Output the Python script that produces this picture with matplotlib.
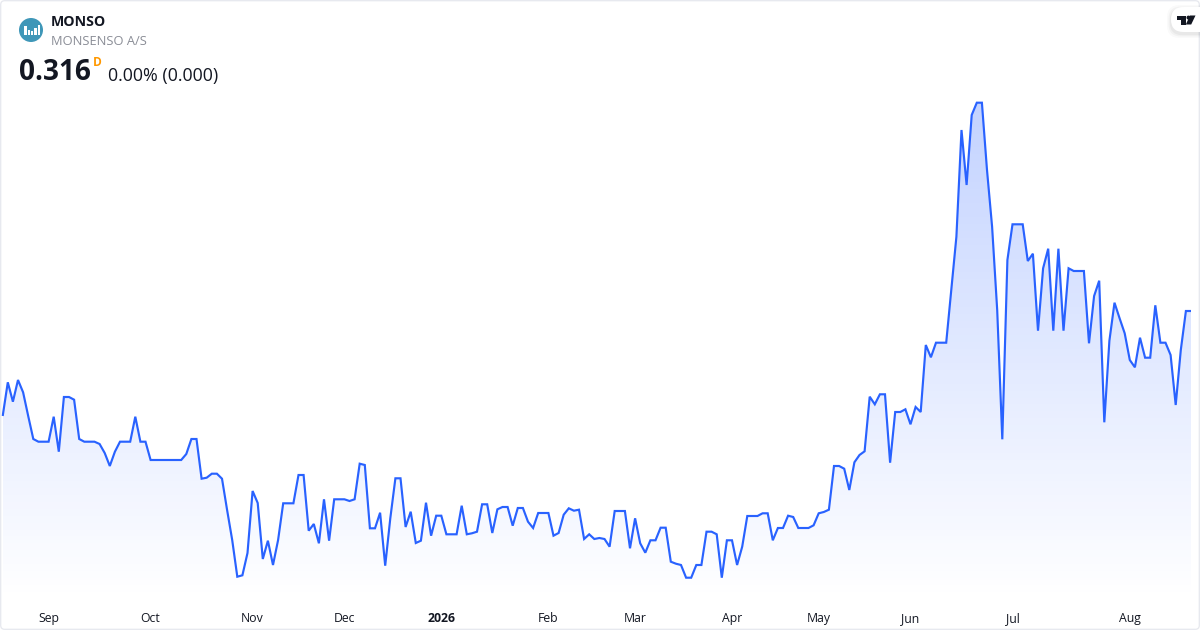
import numpy as np
import matplotlib
matplotlib.use("Agg")
import matplotlib.pyplot as plt
from matplotlib.patches import Circle, Rectangle, Polygon, FancyBboxPatch
from matplotlib.colors import LinearSegmentedColormap

plt.rcParams['font.family'] = ['Open Sans', 'DejaVu Sans']

prices = [
 .211,.2447,.2253,.247,.2347,.211,.188,.1853,.1853,.1853,.2103,.1753,.230,.230,.2273,.188,.1853,.1853,.1853,.183,
 .174,.161,.1753,.1853,.1853,.1853,.2103,.1853,.1853,.167,.167,.167,.167,.167,.167,.167,.173,.188,.188,.1483,
 .1493,.1533,.1533,.1483,.117,.087,.0503,.0517,.074,.136,.124,.068,.0863,.062,.087,.1237,.1237,.1237,.152,.152,
 .0963,.103,.0837,.1277,.0863,.1277,.1277,.1277,.126,.1277,.1633,.162,.0987,.0987,.1143,.0613,.1087,.1487,.1487,.100,
 .1153,.084,.0863,.1243,.0913,.1113,.1113,.0927,.0927,.0927,.1213,.0927,.0937,.0953,.1227,.1227,.094,.1177,.120,.120,
 .1013,.119,.119,.1053,.099,.114,.114,.114,.0913,.094,.1123,.1187,.1163,.1173,.088,.0927,.088,.089,.088,.0803,
 .116,.116,.116,.0787,.1087,.0837,.0743,.0867,.0867,.0993,.0993,.0653,.0633,.062,.0493,.0493,.062,.062,.0953,.0953,
 .0927,.0493,.0867,.0867,.062,.0803,.111,.111,.111,.1137,.1137,.0867,.099,.099,.1113,.110,.099,.099,.099,.1017,
 .1137,.115,.1173,.161,.161,.1583,.137,.1647,.172,.1757,.2303,.2227,.2327,.2327,.1643,.215,.215,.2177,.2027,.220,
 .215,.282,.2697,.2843,.2843,.2843,.337,.3903,.497,.442,.512,.5243,.5243,.457,.4003,.317,.1877,.367,.4027,.4027,
 .4027,.366,.3733,.2963,.3587,.3783,.2963,.3783,.2963,.3587,.356,.356,.356,.2837,.331,.3463,.2047,.2863,.3243,.3087,
 .2937,.267,.2597,.2893,.2693,.2693,.3217,.2843,.2843,.272,.222,.277,.316,.316,
]
tick_idx = [9, 29, 49, 67, 86, 107, 124, 143, 160, 178, 198, 221]
tick_labels = ['Sep', 'Oct', 'Nov', 'Dec', '2026', 'Feb', 'Mar', 'Apr', 'May', 'Jun', 'Jul', 'Aug']
symbol = 'MONSO'
company = 'MONSENSO A/S'
last_price = '0.316'
change = '0.00% (0.000)'
interval = 'D'

W, H = 1200, 630
BLUE = '#2962ff'
fig = plt.figure(figsize=(W / 100, H / 100), dpi=100, facecolor='white')
ax = fig.add_axes([0, 0, 1, 1], zorder=1)
ax.set_facecolor('none')
x = np.arange(len(prices))
y = np.array(prices)
for s in ax.spines.values():
    s.set_visible(False)
ax.set_yticks([])
ax.set_xticks(tick_idx)
ax.set_xticklabels(tick_labels, fontsize=8.8, color='#131722')
ax.tick_params(axis='x', length=0, pad=-12.9)
for lab in ax.get_xticklabels():
    if lab.get_text() == '2026':
        lab.set_fontweight('bold')

# gradient area below the line
poly = ax.fill_between(x, y, 0.027, color='none', lw=0)
cmap = LinearSegmentedColormap.from_list('g', [(0.161, 0.384, 1.0, 0.0), (0.161, 0.384, 1.0, 0.28)])
grad = np.linspace(1, 0, 256).reshape(-1, 1)
im = ax.imshow(grad, cmap=cmap, vmin=0, vmax=1, aspect='auto',
               extent=[x[0], x[-1], 0.027, max(prices)], zorder=2, interpolation='bilinear')
im.set_clip_path(poly.get_paths()[0], transform=ax.transData)
ax.set_xlim(-2.7 / 5.1, (W - 2.7) / 5.1)
ax.set_ylim(-0.003, 0.627)
ax.plot(x, y, color=BLUE, lw=1.55, zorder=3, solid_joinstyle='miter', solid_capstyle='butt')

# overlay in pixel coordinates
ov = fig.add_axes([0, 0, 1, 1], zorder=2)
ov.set_xlim(0, W)
ov.set_ylim(H, 0)
ov.axis('off')
ov.patch.set_alpha(0)
ov.add_patch(FancyBboxPatch((0.7, 0.7), W - 1.4, H - 1.4, boxstyle='round,pad=0,rounding_size=4',
                            fill=False, ec='#e6e8ee', lw=0.9))

# logo
ov.add_patch(Circle((31, 30), 12, fc='#3f97b8', ec='none'))
for bx, bw, btop in [(25.3, 2.7, 26.0), (29.2, 1.8, 30.3), (31.8, 1.8, 31.3), (35.3, 2.7, 28.0), (39.0, 2.8, 25.3)]:
    ov.add_patch(Rectangle((bx - bw / 2, btop), bw, 34.7 - btop, fc='white', ec='none'))

ov.text(51, 21.5, symbol, fontsize=10.2, fontweight='bold', color='#131722', va='center', ha='left')
ov.text(51, 41.5, company, fontsize=9.25, color='#8a8d96', va='center', ha='left')
ov.text(19, 73, last_price, fontsize=20.2, fontweight='bold', color='#131722', va='center', ha='left')
ov.text(93, 62, interval, fontsize=8.6, fontweight='bold', color='#ff9800', va='center', ha='left')
ov.text(108, 75.5, change, fontsize=12.85, color='#131722', va='center', ha='left')

# watermark pill
for grow, a in [(4, 0.02), (2.5, 0.03), (1.2, 0.04)]:
    ov.add_patch(FancyBboxPatch((1171 - grow, 7 - grow + 2), 45 + 2 * grow, 25 + 2 * grow,
                                boxstyle='round,pad=0,rounding_size=12.5', fc='black', ec='none', alpha=a))
ov.add_patch(FancyBboxPatch((1171, 7), 45, 25, boxstyle='round,pad=0,rounding_size=12.5', fc='white', ec='none'))
ov.add_patch(Polygon([(1177, 15.5), (1186, 15.5), (1186, 24.5), (1181.3, 24.5), (1181.3, 19.6), (1177, 19.6)], fc='#131722', ec='none'))
ov.add_patch(Circle((1188.5, 17.6), 2.0, fc='#131722', ec='none'))
ov.add_patch(Polygon([(1190, 15.5), (1195.5, 15.5), (1191.2, 24.5), (1185.8, 24.5)], fc='#131722', ec='none'))

fig.savefig('out.png', dpi=100, facecolor='white')
